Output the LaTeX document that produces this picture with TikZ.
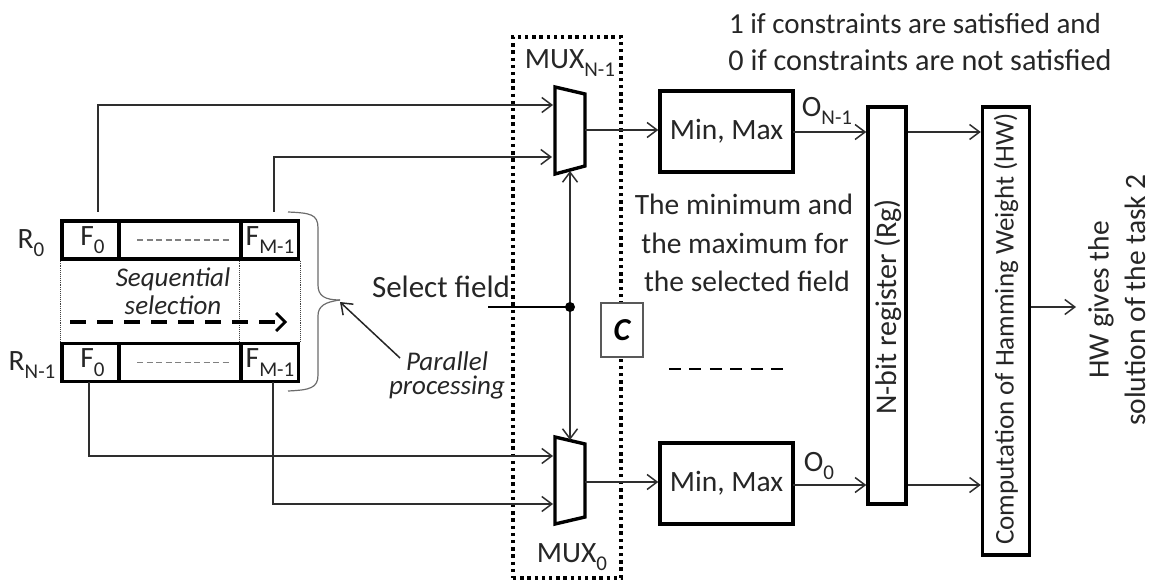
\documentclass[tikz,border=0pt]{standalone}
\usepackage{fontspec}
\setmainfont{Carlito}
\usetikzlibrary{arrows.meta,decorations.pathreplacing}
\newcommand{\lowsub}[1]{\raisebox{-0.28em}{\fontsize{21}{21}\selectfont #1}}
\definecolor{ink}{HTML}{262626}
\definecolor{wire}{HTML}{2e2e2e}
\tikzset{
  txt/.style={inner sep=0pt,text=ink,font=\fontsize{29.5}{34}\selectfont,align=center},
  ital/.style={txt,font=\fontsize{27}{28}\selectfont\itshape},
  thick box/.style={draw=black,line width=3.4pt,inner sep=0pt,text=ink,font=\fontsize{29.5}{34}\selectfont},
  conn/.style={draw=wire,line width=1.5pt,-{Straight Barb[length=10pt,width=15pt,line width=1.5pt]}},
  thinsep/.style={draw=black!75,line width=0.9pt,densely dotted},
  muxshape/.style={draw=black,line width=3.4pt,fill=white,line join=miter},
}
\begin{document}
\begin{tikzpicture}[x=1pt,y=-1pt]
\useasboundingbox (0,0) rectangle (1151,580);
% dotted frame
\node[draw=black,line width=3.4pt,dash pattern=on 3.4pt off 3.8pt,minimum width=108pt,minimum height=541pt,inner sep=0pt] (frame) at (567,307.5) {};
% registers
\node[thick box,minimum width=57pt,minimum height=38pt] (a0) at (90.5,240) {\hspace*{4pt}F\lowsub{0}};
\node[thick box,minimum width=122pt,minimum height=38pt] (a1) at (180,240) {};
\node[thick box,minimum width=57pt,minimum height=38pt] (a2) at (270,240) {F\lowsub{M-1}};
\node[thick box,minimum width=57pt,minimum height=38pt] (b0) at (90.5,362.5) {\hspace*{4pt}F\lowsub{0}};
\node[thick box,minimum width=122pt,minimum height=38pt] (b1) at (180,362.5) {};
\node[thick box,minimum width=57pt,minimum height=38pt] (b2) at (270,362.5) {F\lowsub{M-1}};
\draw[draw=gray,line width=1.2pt,dash pattern=on 6pt off 3.5pt] (137,240) -- (230,240);
\draw[draw=gray,line width=1.2pt,dash pattern=on 6pt off 3.5pt] (137,362.5) -- (230,362.5);
\draw[thinsep] (a0.south west) -- (b0.north west);
\draw[thinsep] (a2.south west) -- (b2.north west);
\draw[thinsep] (a2.south east) -- (b2.north east);
\node[txt] (r0) at (31,243) {R\lowsub{0}};
\node[txt] (rn) at (32,365) {R\lowsub{N-1}};
\node[ital,align=center] (seq) at (173,291) {Sequential\\selection};
\coordinate (dashS) at (70,322);
\coordinate (dashE) at (287,322);
\draw[line width=3.4pt,dash pattern=on 16pt off 11pt,-{Straight Barb[length=9pt,width=18pt,line width=2.8pt]}] (dashS) -- (dashE);
% brace
\coordinate (brT) at (288,212);
\coordinate (brM) at (340,300);
\coordinate (brB) at (288,391);
\draw[draw=gray!85!black,line width=1.2pt] (brT) .. controls (310,213) and (318,214) .. (318,228) -- (318,285) .. controls (318,296) and (325,300) .. (brM);
\draw[draw=gray!85!black,line width=1.2pt] (brM) .. controls (325,302) and (318,306) .. (318,316) -- (318,375) .. controls (318,388) and (310,390) .. (brB);
% muxes
\coordinate (mA1) at (555,87); \coordinate (mA2) at (585,94); \coordinate (mA3) at (585,166); \coordinate (mA4) at (555,174);
\coordinate (mB1) at (555,437); \coordinate (mB2) at (585,444); \coordinate (mB3) at (585,517); \coordinate (mB4) at (555,524);
\coordinate (mAin1) at (553,105); \coordinate (mAin2) at (552,157);
\coordinate (mBin1) at (553,456); \coordinate (mBin2) at (553,504);
\coordinate (mAout) at (585,130); \coordinate (mBout) at (585,482);
\coordinate (mAsel) at (570,171); \coordinate (mBsel) at (570,440);
\node[txt] (muxtop) at (570,63) {MUX\lowsub{N-1}};
\node[txt] (muxbot) at (572,557) {MUX\lowsub{0}};
% min max
\node[thick box,minimum width=133pt,minimum height=81pt] (mm1) at (726.5,131.5) {Min, Max};
\node[thick box,minimum width=133pt,minimum height=81pt] (mm0) at (726.5,483.5) {Min, Max};
% registers at right
\node[thick box,minimum width=38pt,minimum height=397pt] (rg) at (887,305.5) {};
\node[txt,rotate=90,font=\fontsize{30}{34}\selectfont] (rgt) at (888,307) {N-bit register (Rg)};
\node[thick box,minimum width=47pt,minimum height=448pt] (hw) at (1006,331) {};
\node[txt,rotate=90,font=\fontsize{27}{33}\selectfont] (hwt) at (1006,329) {Computation of Hamming Weight (HW)};
% wires
\coordinate (selS) at (488,307);
\coordinate (junc) at (570,307);
\coordinate (t0) at (98,212); \coordinate (t1) at (274,212);
\coordinate (u0) at (89,382); \coordinate (u1) at (273,382);
\draw[conn] (t0) |- (mAin1);
\draw[conn] (t1) |- (mAin2);
\draw[conn] (u0) |- (mBin1);
\draw[conn] (u1) |- (mBin2);
\draw[muxshape] (mA1) -- (mA2) -- (mA3) -- (mA4) -- cycle;
\draw[muxshape] (mB1) -- (mB2) -- (mB3) -- (mB4) -- cycle;
\draw[conn] (mAout) -- (mm1.west |- mAout);
\draw[conn] (mBout) -- (mm0.west |- mBout);
\draw[draw=wire,line width=1.7pt,{Straight Barb[length=10pt,width=15pt,line width=1.5pt]}-{Straight Barb[length=10pt,width=15pt,line width=1.5pt]}] (mAsel) -- (mBsel);
\draw[draw=black,line width=1.4pt] (selS) -- (junc);
\fill[black] (junc) circle (5pt);
\coordinate (o1a) at (793,132); \coordinate (o0a) at (793,485);
\draw[conn] (o1a) -- (rg.west |- o1a);
\draw[conn] (o0a) -- (rg.west |- o0a);
\draw[conn] (rg.east |- o1a) -- (hw.west |- o1a);
\draw[conn] (rg.east |- o0a) -- (hw.west |- o0a);
\coordinate (outE) at (1076,307);
\draw[conn] (hw.east |- outE) -- (outE);
% C
\node[draw=black!65,line width=1.1pt,fill=white,minimum width=42pt,minimum height=54pt,inner sep=0pt,font=\fontsize{32}{32}\selectfont\bfseries\itshape] (c) at (622,330) {C};
% dashes
\coordinate (ddS) at (669,369); \coordinate (ddE) at (785,369);
\draw[line width=2.6pt,dash pattern=on 12pt off 8.4pt] (ddS) -- (ddE);
% labels
\node[txt] (oa) at (827,111) {O\lowsub{N-1}};
\node[txt] (ob) at (819,466) {O\lowsub{0}};
\node[txt,font=\fontsize{29}{34}\selectfont] (top1) at (915,24) {1 if constraints are satisfied and};
\node[txt,font=\fontsize{30.2}{34}\selectfont] (top2) at (920,60) {0 if constraints are not satisfied};
\node[txt] (mid1) at (744,204) {The minimum and};
\node[txt] (mid2) at (745,243) {the maximum for};
\node[txt] (mid3) at (747,281) {the selected field};
\node[txt,font=\fontsize{31}{34}\selectfont] (sel) at (441,287) {Select field};
\node[ital] (par) at (447,361) {Parallel};
\node[ital] (proc) at (447,388) {processing};
\coordinate (parS) at (400,358);
\draw[conn,draw=ink] (parS) -- (brM.east |- 0,302);
\node[txt,rotate=90] (hw1) at (1101,300) {HW gives the};
\node[txt,rotate=90] (hw2) at (1135,300) {solution of the task 2};
\end{tikzpicture}
\end{document}
